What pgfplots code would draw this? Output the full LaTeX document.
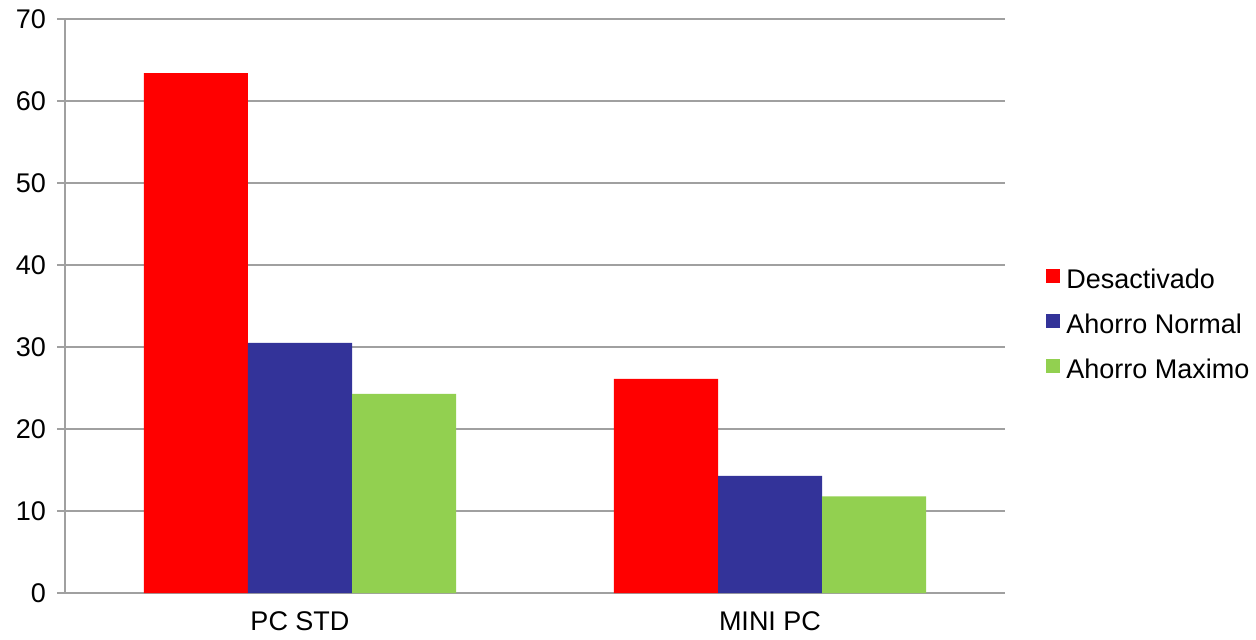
\documentclass[border=0pt]{standalone}
\usepackage{fontspec}
\setmainfont{Liberation Sans}
\usepackage{pgfplots}
\pgfplotsset{compat=1.18}
\definecolor{cred}{HTML}{FF0000}
\definecolor{cblue}{HTML}{333399}
\definecolor{cgreen}{HTML}{92D050}
\definecolor{gridc}{HTML}{A0A0A0}
\begin{document}
\begin{tikzpicture}[font=\fontsize{13.5}{16}\selectfont]
\begin{axis}[
  scale only axis,
  width=470pt, height=287pt,
  xmin=-0.5, xmax=1.5,
  ymin=0, ymax=70,
  ytick={0,10,...,70},
  xtick={0,1},
  xticklabels={PC STD, MINI PC},
  x tick style={draw=none},
  extra x ticks={-0.5,0.5,1.5},
  extra x tick labels={},
  extra x tick style={tick style={draw=gridc, thick}, major tick length=4pt, tick align=outside, xmajorgrids=false},
  tick align=outside,
  major tick length=4pt,
  y tick style={draw=gridc, thick},
  ymajorgrids,
  grid style={gridc, thick},
  axis x line*=bottom,
  axis y line*=left,
  x axis line style={-, gridc, thick},
  y axis line style={-, gridc, thick},
  /pgf/number format/assume math mode=true,
  tick label style={font=\fontsize{13.5}{16}\selectfont, black},
  yticklabel style={xshift=-2pt},
  xticklabel style={yshift=-2pt},
  ybar,
  bar width=0.2213,
  legend style={draw=none, fill=none, at={(1.0436,0.47)}, anchor=west,
    inner sep=0pt, row sep=12.5pt, column sep=3pt,
    nodes={inner sep=0pt, text height=10pt, text depth=0pt, font=\fontsize{13.5}{16}\selectfont}},
  legend cell align=left,
  legend image code/.code={\fill[#1] (0pt,-2.5pt) rectangle (7pt,4.5pt);},
]
\addplot[fill=cred, draw=none, bar shift=-0.2213] coordinates {(0,63.4) (1,26.1)};
\addplot[fill=cblue, draw=none, bar shift=0] coordinates {(0,30.5) (1,14.3)};
\addplot[fill=cgreen, draw=none, bar shift=0.2213] coordinates {(0,24.3) (1,11.8)};
\legend{Desactivado, Ahorro Normal, Ahorro Maximo}
\end{axis}
\pgfresetboundingbox
\path (-32.5pt,-23pt) rectangle (595.5pt,296.5pt);
\end{tikzpicture}
\end{document}
